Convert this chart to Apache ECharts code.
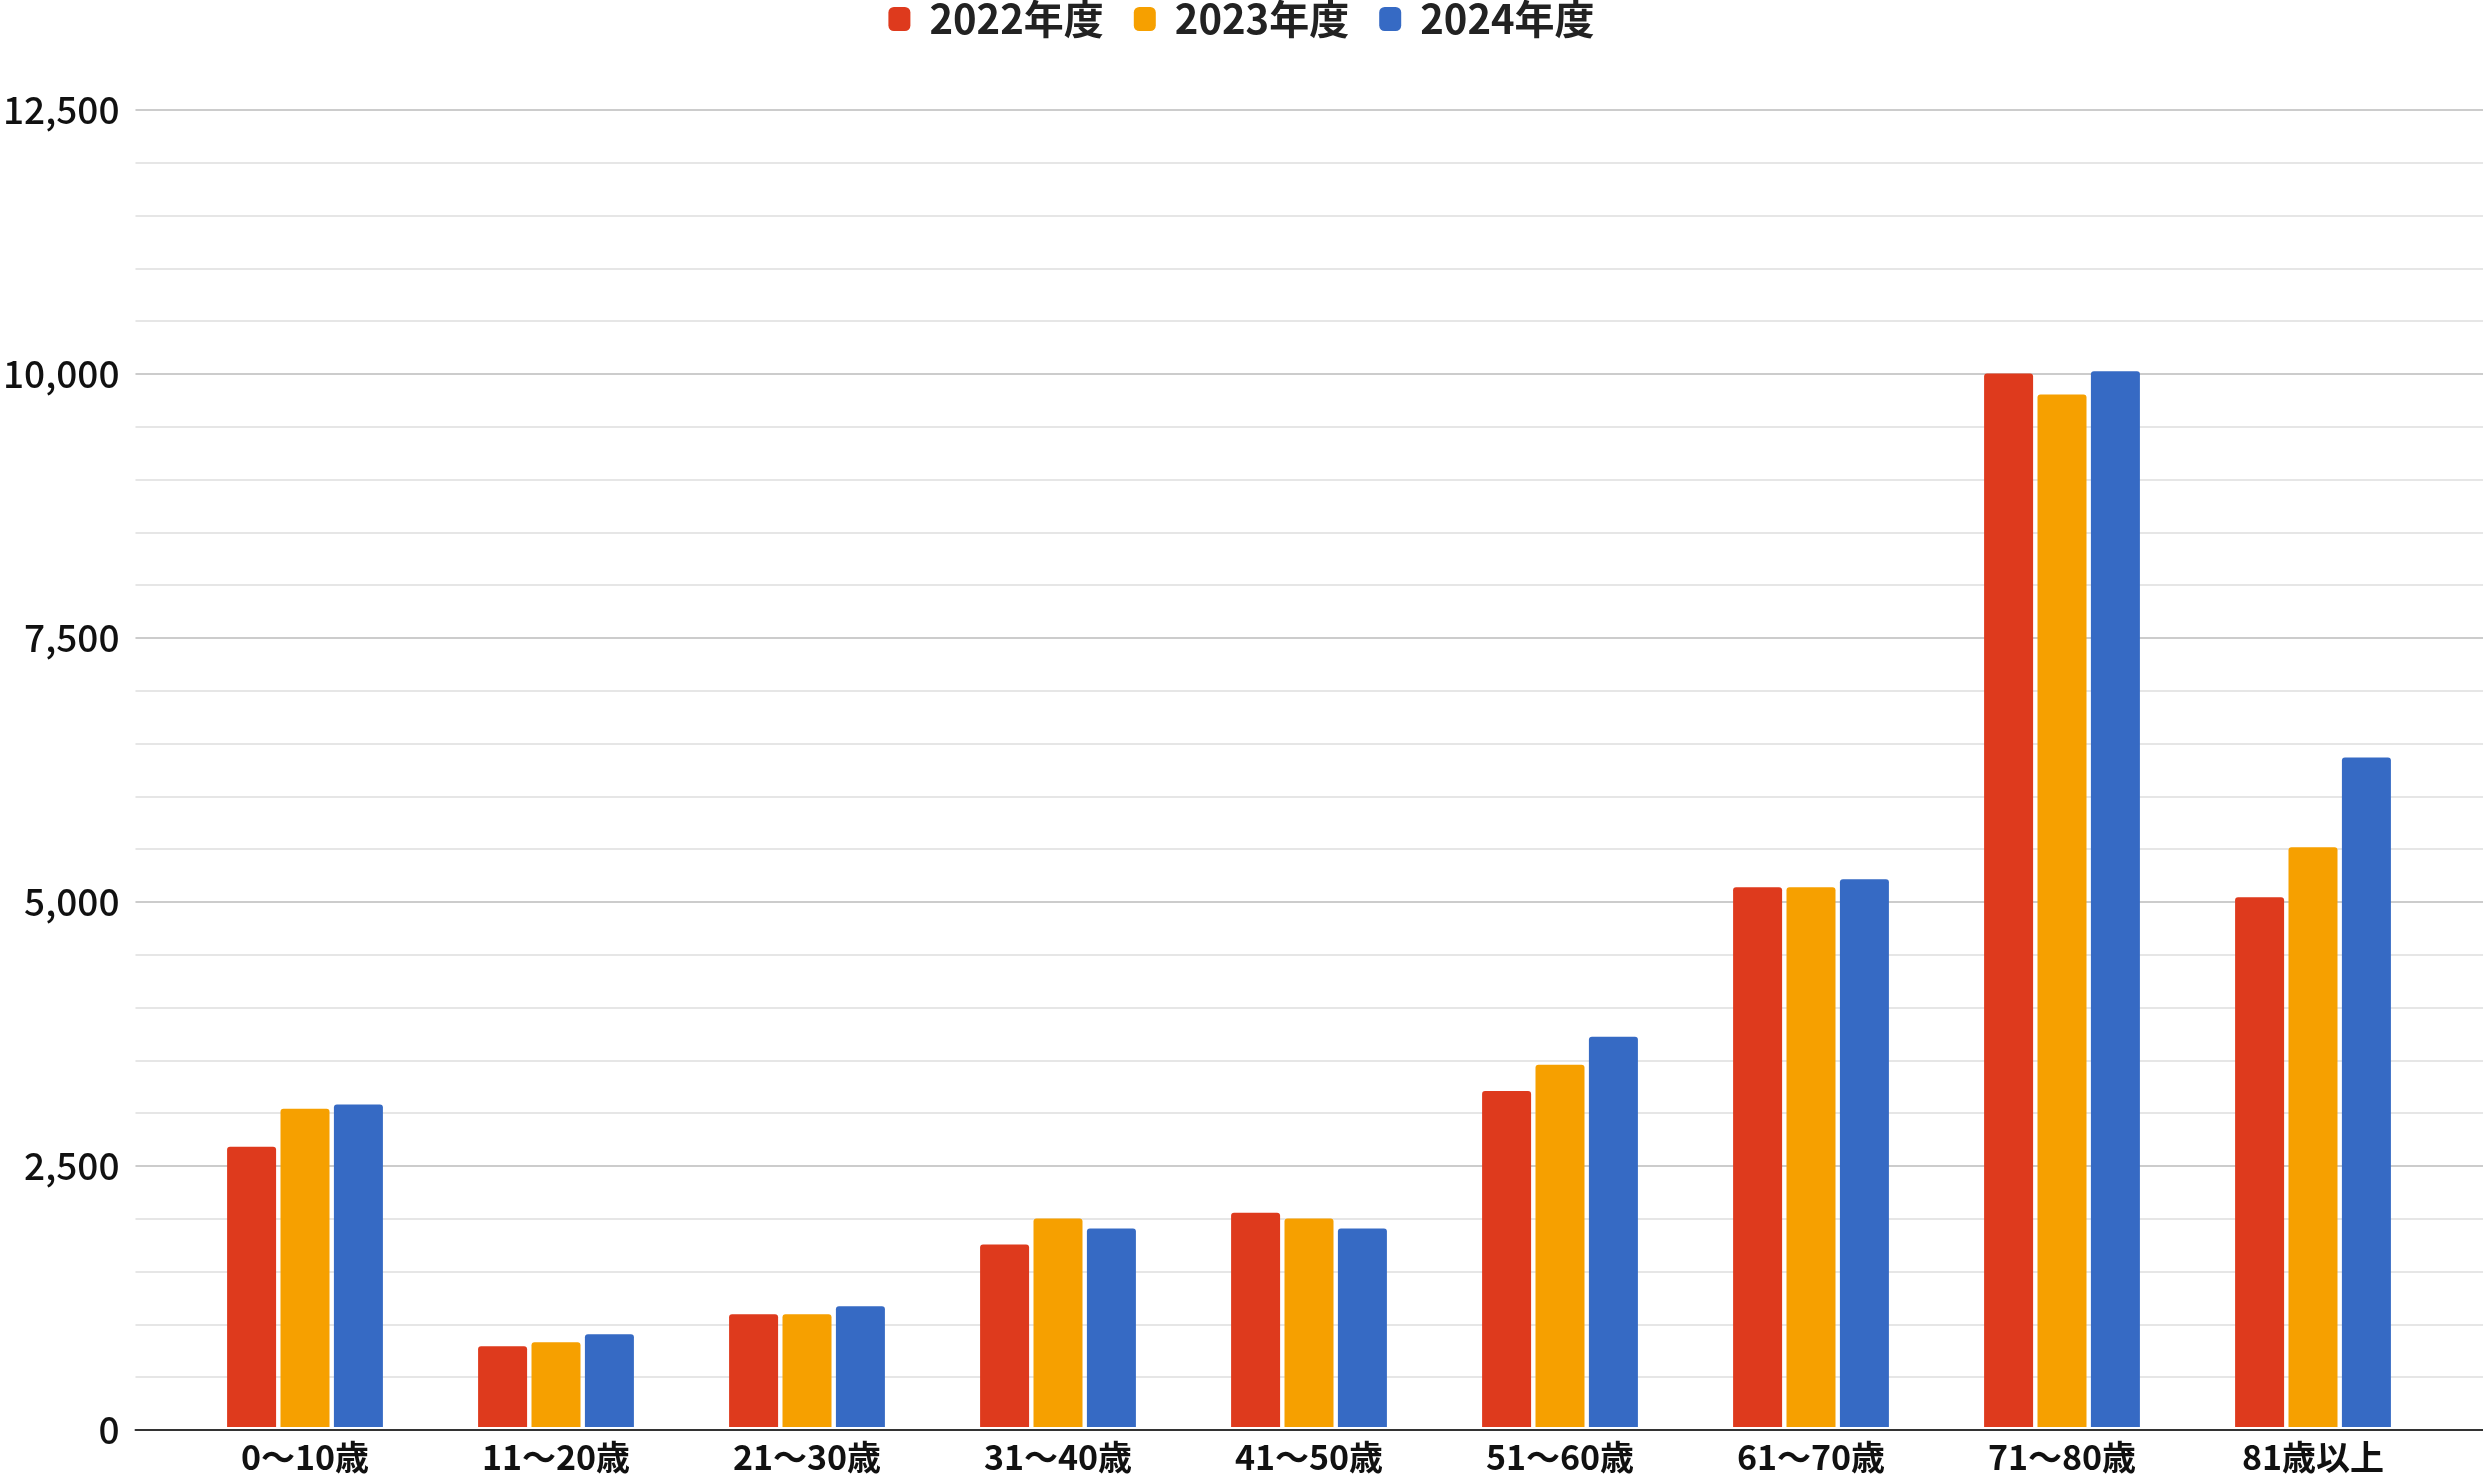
<!DOCTYPE html>
<html>
<head>
<meta charset="utf-8">
<script src="https://cdn.jsdelivr.net/npm/echarts@6/dist/echarts.min.js"></script>
<style>
html,body{margin:0;padding:0;background:#fff;}
#chart{width:2483px;height:1474px;}
</style>
</head>
<body>
<div id="chart"></div>
<script>
const categories = ['0～10歳','11～20歳','21～30歳','31～40歳','41～50歳','51～60歳','61～70歳','71～80歳','81歳以上'];
const seriesNames = ['2022年度','2023年度','2024年度'];
const values2022 = [2660, 767, 1070, 1733, 2033, 3188, 5123, 10000, 5028];
const values2023 = [3020, 805, 1070, 1979, 1979, 3438, 5123, 9800, 5502];
const values2024 = [3060, 881, 1146, 1884, 1884, 3703, 5199, 10020, 6354];
const yTicks = [0, 2500, 5000, 7500, 10000, 12500];

const colors = ['#de3a1d', '#f6a000', '#366ac4'];
const FONT = '"Noto Sans CJK JP", "Noto Sans", sans-serif';

const chart = echarts.init(document.getElementById('chart'), null, {renderer: 'canvas'});
const allValues = [values2022, values2023, values2024];

chart.setOption({
  animation: false,
  backgroundColor: '#ffffff',
  color: colors,
  textStyle: {fontFamily: FONT},
  legend: {
    data: seriesNames,
    top: -6,
    left: 'center',
    itemWidth: 22,
    itemHeight: 24,
    itemGap: 30,
    icon: 'roundRect',
    textStyle: {fontFamily: FONT, fontSize: 40, lineHeight: 30, fontWeight: 'bold', color: '#222', padding: [0, 0, 0, 14]}
  },
  grid: [
    {left: 135, right: 0, top: 110, bottom: 44, containLabel: false},
    {left: 179.5, right: 44.5, top: 110, bottom: 44, containLabel: false}
  ],
  xAxis: [
    {
      type: 'category', gridIndex: 0, data: categories,
      axisLine: {show: true, lineStyle: {color: '#333', width: 2}},
      axisTick: {show: false}, axisLabel: {show: false}, splitLine: {show: false}, z: 5
    },
    {
      type: 'category', gridIndex: 1, data: categories,
      axisLine: {show: false}, axisTick: {show: false},
      axisLabel: {show: true, fontFamily: FONT, fontSize: 34, fontWeight: 'bold', color: '#111', margin: 13}
    }
  ],
  yAxis: [
    {
      type: 'value', gridIndex: 0, min: yTicks[0], max: yTicks[yTicks.length - 1], interval: 2500,
      axisLine: {show: false}, axisTick: {show: false},
      axisLabel: {
        show: true, fontFamily: FONT, fontSize: 37, fontWeight: 500, color: '#111', margin: 16,
        formatter: v => v.toLocaleString('en-US')
      },
      splitLine: {show: true, lineStyle: {color: '#cccccc', width: 2}},
      minorTick: {show: false, splitNumber: 5},
      minorSplitLine: {show: true, lineStyle: {color: '#e6e6e6', width: 2}}
    },
    {
      type: 'value', gridIndex: 1, min: yTicks[0], max: yTicks[yTicks.length - 1], interval: 2500,
      show: false, splitLine: {show: false}
    }
  ],
  series: seriesNames.map((name, i) => ({
    name: name,
    type: 'bar',
    xAxisIndex: 1,
    yAxisIndex: 1,
    data: allValues[i],
    barWidth: 49,
    barGap: '9%',
    itemStyle: {color: colors[i], borderRadius: [3, 3, 0, 0]},
    z: 2
  }))
});
</script>
</body>
</html>
